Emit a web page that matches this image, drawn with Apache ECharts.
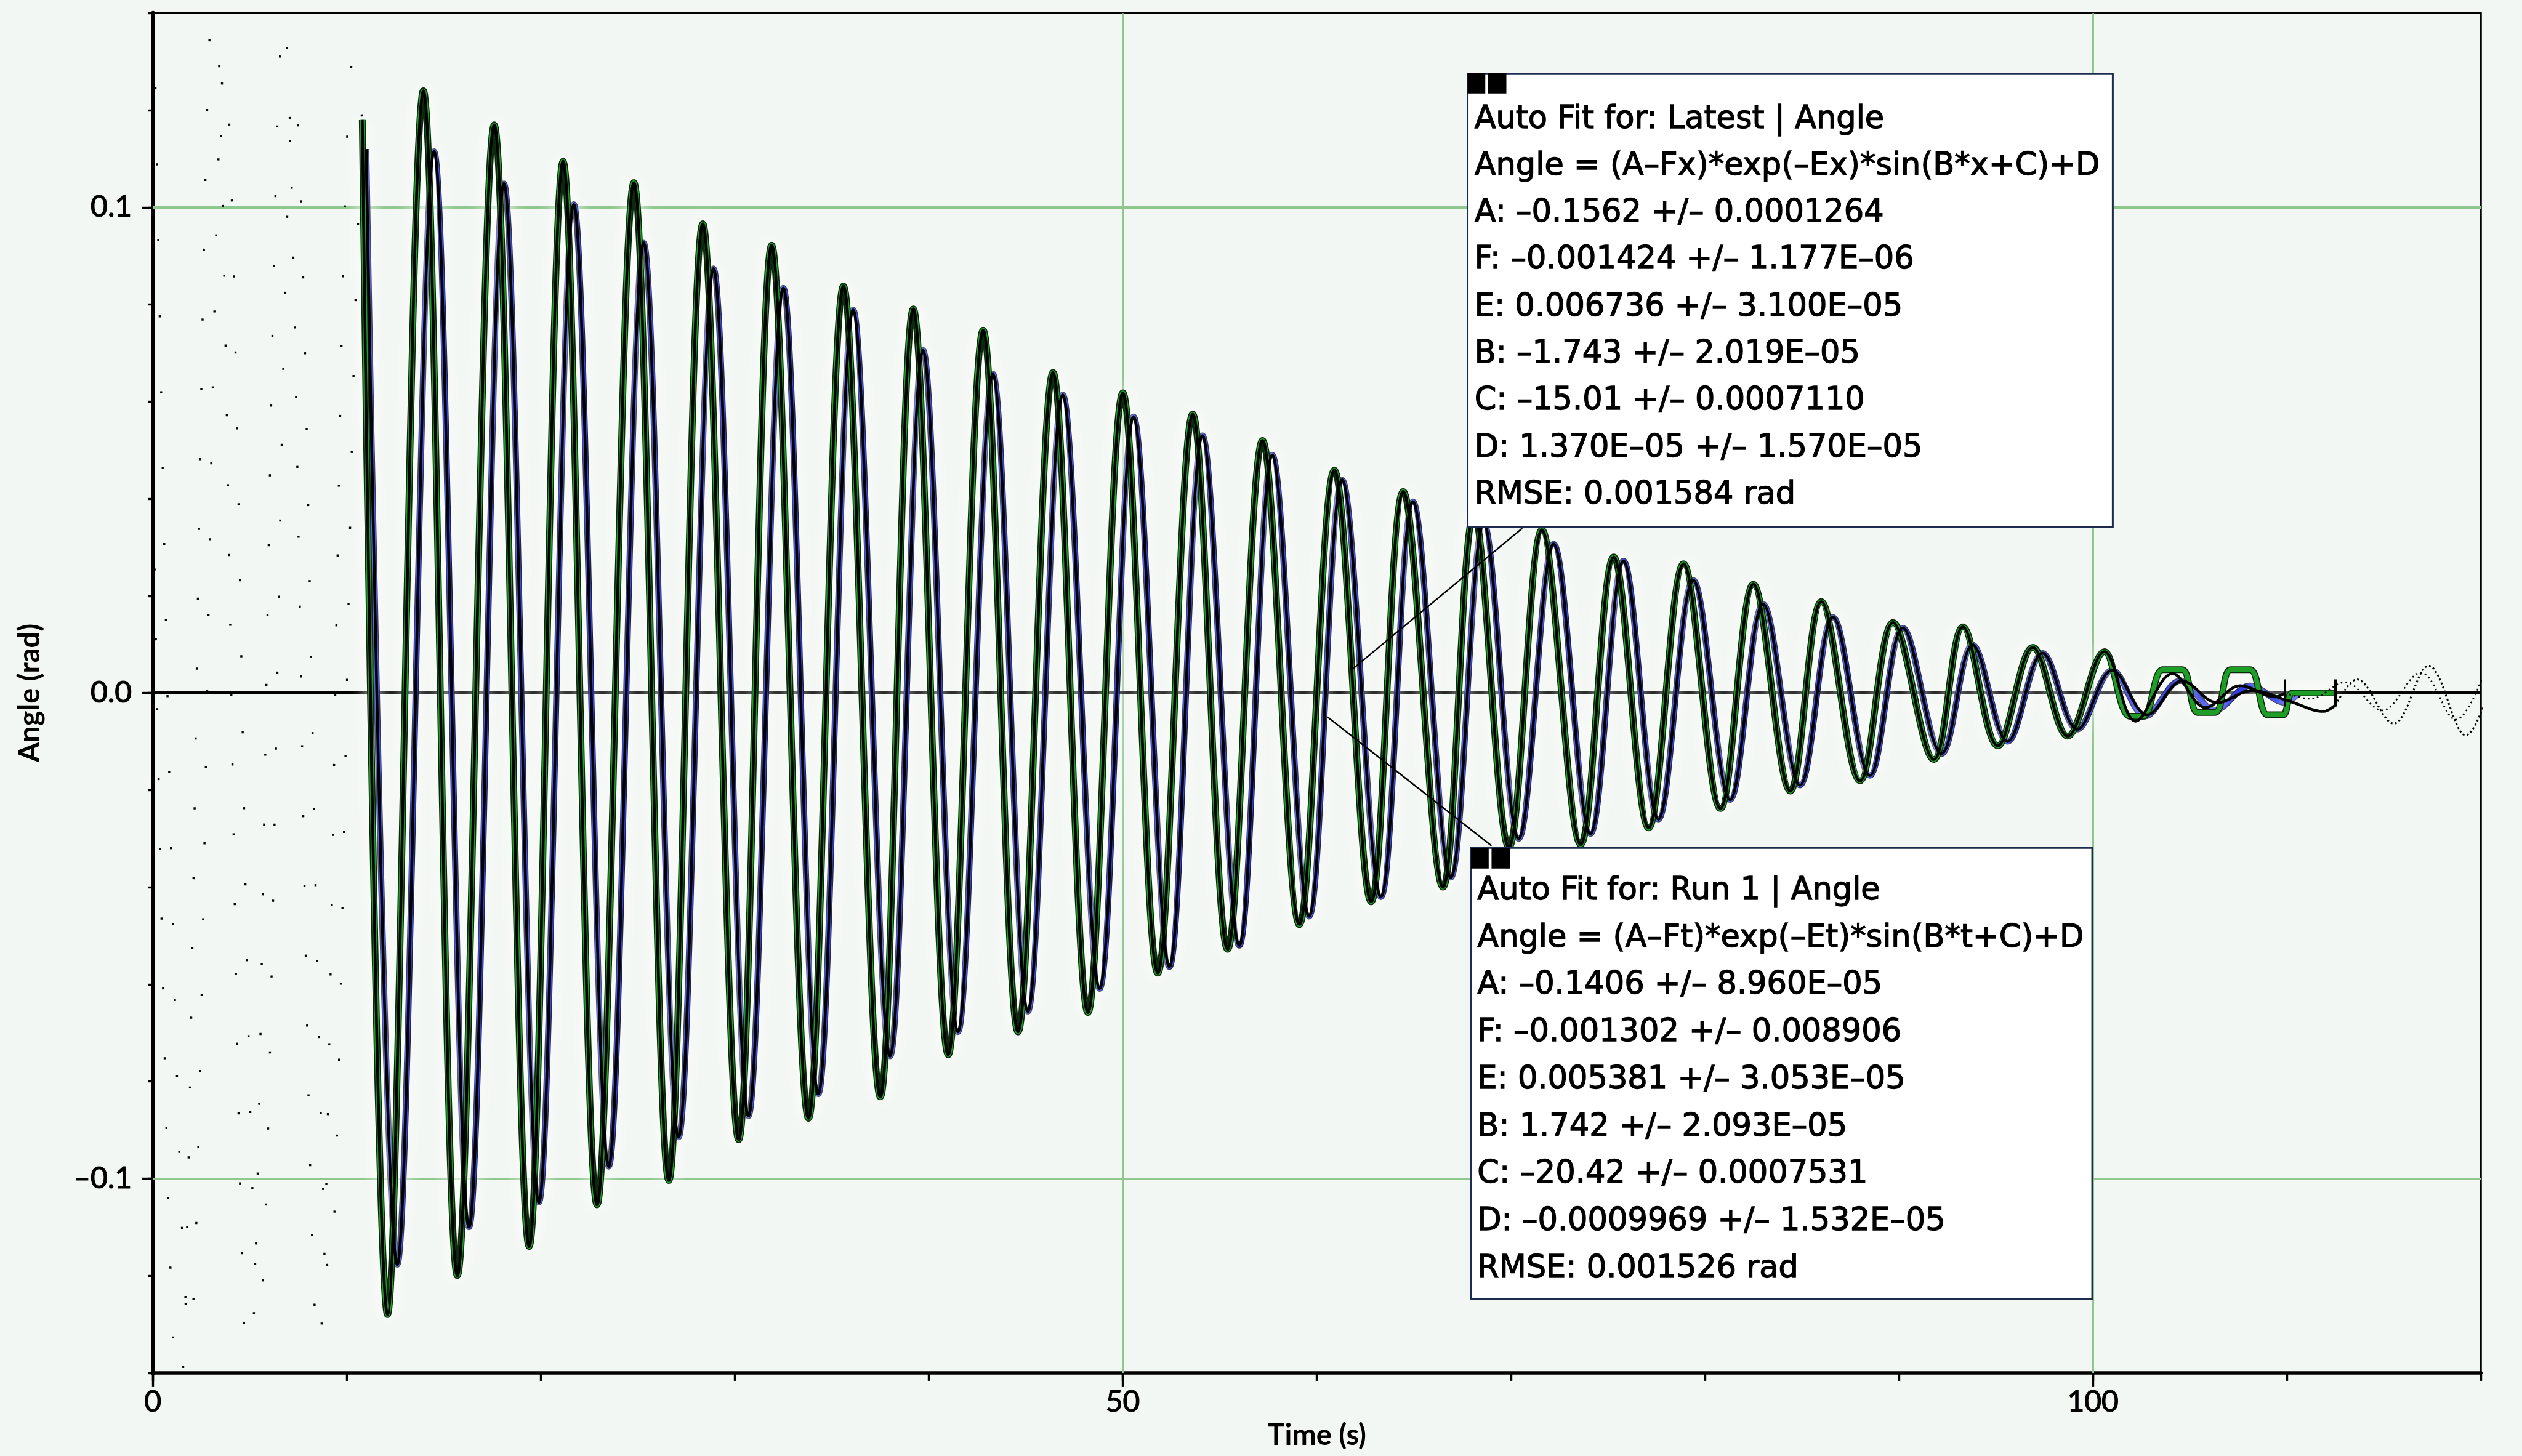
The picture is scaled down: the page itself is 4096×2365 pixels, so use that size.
<!DOCTYPE html>
<html>
<head>
<meta charset="utf-8">
<script src="https://cdn.jsdelivr.net/npm/echarts@6/dist/echarts.min.js"></script>
<style>
html,body{margin:0;padding:0;background:#f3f7f3;}
#c{width:4096px;height:2365px;}
</style>
</head>
<body>
<div id="c"></div>
<script>
// ---------------- DATA ----------------
// Latest run (green): alternating extremes, time (s) and angle (rad)
const latestT = [10.8, 12.1, 13.95, 15.7, 17.6, 19.4, 21.15, 22.9, 24.8, 26.6, 28.35, 30.2, 31.9, 33.8, 35.6, 37.5, 39.2, 41.0, 42.8, 44.6, 46.4, 48.2, 50.0, 51.8, 53.6, 55.4, 57.2, 59.1, 60.9, 62.8, 64.45, 66.5, 68.1, 69.9, 71.6, 73.6, 75.3, 77.1, 78.9, 80.8, 82.5, 84.4, 86.0, 88.0, 89.7, 91.8, 93.3, 95.1, 96.9, 98.7, 100.6, 101.9, 102.6, 103.6, 104.6, 105.4, 106.3, 107.1, 108.1, 109.0, 109.8, 110.3, 112.4];
const latestV = [0.118, -0.128, 0.124, -0.120, 0.117, -0.114, 0.1095, -0.1054, 0.1051, -0.1004, 0.0966, -0.092, 0.0922, -0.0876, 0.0838, -0.0832, 0.0791, -0.0745, 0.0747, -0.0698, 0.066, -0.0658, 0.0618, -0.0577, 0.0574, -0.0528, 0.052, -0.0477, 0.0459, -0.043, 0.0415, -0.040, 0.037, -0.0318, 0.0336, -0.0312, 0.028, -0.0278, 0.0266, -0.0238, 0.0224, -0.0202, 0.0188, -0.0181, 0.0145, -0.0137, 0.0136, -0.0109, 0.0094, -0.0089, 0.0085, -0.0048, -0.0048, 0.0048, 0.0048, -0.004, -0.004, 0.0048, 0.0048, -0.0045, -0.0045, 0, 0];
// Run 1 (blue)
const run1T = [11.0, 12.6, 14.5, 16.3, 18.1, 19.9, 21.7, 23.5, 25.3, 27.1, 28.9, 30.7, 32.5, 34.3, 36.1, 38.0, 39.7, 41.5, 43.3, 45.1, 46.9, 48.8, 50.55, 52.4, 54.1, 56.0, 57.7, 59.6, 61.3, 63.3, 64.95, 66.9, 68.6, 70.4, 72.2, 74.1, 75.8, 77.6, 79.4, 81.3, 83.0, 84.9, 86.6, 88.5, 90.2, 92.2, 93.8, 95.6, 97.4, 99.2, 101.0, 102.7, 104.5, 106.3, 108.1, 109.9, 110.8, 112.4];
const run1V = [0.112, -0.1177, 0.1115, -0.110, 0.1049, -0.1049, 0.1006, -0.0975, 0.0927, -0.0915, 0.0874, -0.0871, 0.0834, -0.0826, 0.0789, -0.0748, 0.0706, -0.0698, 0.0657, -0.0656, 0.0614, -0.0609, 0.0569, -0.0564, 0.053, -0.052, 0.049, -0.046, 0.0439, -0.042, 0.0394, -0.038, 0.035, -0.030, 0.0307, -0.029, 0.0272, -0.026, 0.0232, -0.022, 0.0183, -0.019, 0.0156, -0.017, 0.0134, -0.0125, 0.0099, -0.010, 0.0082, -0.0075, 0.0047, -0.0048, 0.0025, -0.0035, 0.0015, -0.002, 0, 0];
// Fit curves (black): solid part follows the data extremes up to ~101 s, then these tails
const latestFitTailT = [102.2, 104.1, 105.8, 107.6, 109.4, 109.9];
const latestFitTailV = [-0.0058, 0.0040, -0.0030, 0.0015, -0.0008, 0.0];
const run1FitTailT = [102.8, 104.6, 106.4, 108.2, 110.0, 111.9, 112.5];
const run1FitTailV = [-0.0045, 0.0025, -0.0020, 0.0005, -0.0015, -0.0038, -0.0025];
// Fit extrapolations (dotted)
const latestPreT = [-0.45, 1.35, 3.15, 4.95, 6.75, 8.55, 10.35, 10.8];
const latestPreV = [0.155, -0.150, 0.146, -0.143, 0.139, -0.135, 0.131, 0.118];
const run1PreT = [0.1, 1.9, 3.7, 5.5, 7.3, 9.1, 10.9, 11.0];
const run1PreV = [0.134, -0.133, 0.129, -0.127, 0.123, -0.120, 0.113, 0.112];
const latestPostT = [109.9, 111.2, 113.0, 114.9, 116.9, 118.7, 120.4];
const latestPostV = [0, -0.0012, 0.0022, -0.0036, 0.0042, -0.0055, 0.0066];
const run1PostT = [112.5, 113.6, 115.5, 117.3, 119.2, 121.0];
const run1PostV = [-0.0025, 0.0028, -0.0063, 0.0056, -0.0087, 0.009];
// Fit range end brackets
const bracketT = [109.9, 112.5];
const bracketHalf = 0.0028;
// Axes
const xMajor = [0, 50, 100];
const yMajor = [-0.1, 0, 0.1];
const gridX = [50, 100];
const gridY = [-0.1, 0.1];
// Annotation texts
const box1Lines = [
  'Auto Fit for: Latest | Angle',
  'Angle = (A–Fx)*exp(–Ex)*sin(B*x+C)+D',
  'A: –0.1562 +/– 0.0001264',
  'F: –0.001424 +/– 1.177E–06',
  'E: 0.006736 +/– 3.100E–05',
  'B: –1.743 +/– 2.019E–05',
  'C: –15.01 +/– 0.0007110',
  'D: 1.370E–05 +/– 1.570E–05',
  'RMSE: 0.001584 rad'
];
const box2Lines = [
  'Auto Fit for: Run 1 | Angle',
  'Angle = (A–Ft)*exp(–Et)*sin(B*t+C)+D',
  'A: –0.1406 +/– 8.960E–05',
  'F: –0.001302 +/– 0.008906',
  'E: 0.005381 +/– 3.053E–05',
  'B: 1.742 +/– 2.093E–05',
  'C: –20.42 +/– 0.0007531',
  'D: –0.0009969 +/– 1.532E–05',
  'RMSE: 0.001526 rad'
];

// ---------------- LAYOUT ----------------
const S = 4096 / 4425;
const zip = (T, V) => T.map((t, i) => [t, V[i]]);
const latestFit = zip(latestT.slice(0, 51), latestV.slice(0, 51)).concat(zip(latestFitTailT, latestFitTailV));
const run1Fit = zip(run1T.slice(0, 51), run1V.slice(0, 51)).concat(zip(run1FitTailT, run1FitTailV));

const boxFont = '51px "DejaVu Sans"';
function boxGraphics(bx, by, bw, bh, tx, ty0, dy, lines, hx, hy) {
  const els = [];
  els.push({type: 'rect', z: 100, shape: {x: bx * S, y: by * S, width: bw * S, height: bh * S},
    style: {fill: '#ffffff', stroke: '#1d2b4f', lineWidth: 3}});
  lines.forEach((t, i) => {
    els.push({type: 'text', z: 101, style: {text: t, x: tx * S, y: (ty0 + i * dy) * S,
      font: boxFont, fill: '#000', stroke: '#000', lineWidth: 1.3, align: 'left', verticalAlign: 'middle'}});
  });
  els.push({type: 'rect', z: 102, shape: {x: hx * S, y: hy * S, width: 31 * S, height: 36 * S}, style: {fill: '#000'}});
  els.push({type: 'rect', z: 102, shape: {x: (hx + 36) * S, y: hy * S, width: 32 * S, height: 36 * S}, style: {fill: '#000'}});
  return els;
}
const graphics = []
  .concat(boxGraphics(2575, 130, 1132, 795, 2587, 210, 82.4, box1Lines, 2575, 128))
  .concat(boxGraphics(2581, 1488, 1090, 791, 2592, 1564, 82.9, box2Lines, 2581, 1488))
  .concat([
    {type: 'line', z: 99, shape: {x1: 2671 * S, y1: 927 * S, x2: 2372 * S, y2: 1175 * S}, style: {stroke: '#000', lineWidth: 2.5}},
    {type: 'line', z: 99, shape: {x1: 2329 * S, y1: 1258 * S, x2: 2617 * S, y2: 1484 * S}, style: {stroke: '#000', lineWidth: 2.5}}
  ]);

const chart = echarts.init(document.getElementById('c'), null, {renderer: 'canvas', width: 4096, height: 2365});
const glow = {shadowColor: 'rgba(255,255,255,0.95)', shadowBlur: 26};
const tickFont = {fontFamily: 'Lato', fontSize: 48, color: '#000', textBorderColor: '#000', textBorderWidth: 1.2};
const nameFont = {fontFamily: 'Lato', fontSize: 47, fontWeight: 'bold', color: '#000'};

chart.setOption({
  animation: false,
  backgroundColor: '#f3f7f3',
  grid: {left: 268 * S, top: 23 * S, width: (4353 - 268) * S, height: (2409 - 23) * S,
    show: true, borderColor: '#000', borderWidth: 2.8, backgroundColor: 'transparent', containLabel: false},
  xAxis: [
    {type: 'value', min: 0, max: 120, interval: 10, position: 'bottom',
      axisLine: {show: true, onZero: false, lineStyle: {color: '#000', width: 5.5}},
      axisTick: {show: true, length: 13, lineStyle: {color: '#000', width: 3.4}},
      axisLabel: {show: false}, splitLine: {show: false}},
    {type: 'value', min: 0, max: 120, interval: 50, position: 'bottom',
      axisLine: {show: false, onZero: false},
      axisTick: {show: true, customValues: xMajor, length: 23, lineStyle: {color: '#000', width: 3.4}},
      axisLabel: Object.assign({show: true, customValues: xMajor, margin: 24,
        formatter: v => (xMajor.indexOf(v) >= 0 ? String(v) : '')}, tickFont),
      splitLine: {show: false},
      name: 'Time (s)', nameLocation: 'middle', nameGap: 78, nameTextStyle: nameFont}
  ],
  yAxis: [
    {type: 'value', min: -0.14, max: 0.14, interval: 0.02, position: 'left',
      axisLine: {show: true, onZero: false, lineStyle: {color: '#000', width: 7}},
      axisTick: {show: true, length: 8, lineStyle: {color: '#000', width: 3.4}},
      axisLabel: {show: false}, splitLine: {show: false}},
    {type: 'value', min: -0.14, max: 0.14, position: 'left', offset: 0,
      axisLine: {show: false, onZero: false},
      axisTick: {show: true, customValues: yMajor, length: 18, lineStyle: {color: '#000', width: 3.4}},
      axisLabel: Object.assign({show: true, customValues: yMajor, margin: 34,
        formatter: v => (Math.abs(v) < 1e-9 ? '0.0' : (v < 0 ? '–' : '') + Math.abs(v).toFixed(1))}, tickFont),
      splitLine: {show: false},
      name: 'Angle (rad)', nameLocation: 'middle', nameGap: 176, nameTextStyle: nameFont}
  ],
  series: [
    {type: 'line', data: [], xAxisIndex: 0, yAxisIndex: 0, silent: true, z: 1,
      markLine: {silent: true, z: 1, symbol: ['none', 'none'], label: {show: false}, animation: false,
        data: gridX.map(x => ({xAxis: x, lineStyle: {color: '#8fc88f', width: 3, type: 'solid'}}))
          .concat(gridY.map(y => ({yAxis: y, lineStyle: {color: '#8fc88f', width: 4, type: 'solid'}})))
          .concat([{yAxis: 0, lineStyle: {color: '#000', width: 5, type: 'solid'}}])}},
    {name: 'Run 1 outline', type: 'line', data: zip(run1T, run1V), smooth: 0.36, showSymbol: false, z: 2,
      lineStyle: Object.assign({color: '#0a0c3a', width: 10}, glow)},
    {name: 'Run 1', type: 'line', data: zip(run1T, run1V), smooth: 0.36, showSymbol: false, z: 2,
      lineStyle: {color: '#1f2fe8', width: 7}},
    {name: 'Latest outline', type: 'line', data: zip(latestT, latestV), smooth: 0.36, showSymbol: false, z: 3,
      lineStyle: Object.assign({color: '#0b2a0b', width: 11}, glow)},
    {name: 'Latest', type: 'line', data: zip(latestT, latestV), smooth: 0.36, showSymbol: false, z: 3,
      lineStyle: {color: '#1e9e26', width: 7.6}},
    {name: 'Latest fit', type: 'line', data: latestFit, smooth: 0.36, showSymbol: false, z: 4,
      lineStyle: {color: '#000', width: 4.6},
      markLine: {silent: true, z: 6, symbol: ['none', 'none'], label: {show: false}, animation: false,
        lineStyle: {color: '#000', width: 4, type: 'solid'},
        data: bracketT.map(t => [{coord: [t, bracketHalf]}, {coord: [t, -bracketHalf]}])}},
    {name: 'Run 1 fit', type: 'line', data: run1Fit, smooth: 0.36, showSymbol: false, z: 4,
      lineStyle: {color: '#000', width: 4.6}},
    {name: 'Latest fit extrap. start', type: 'line', data: zip(latestPreT, latestPreV), smooth: 0.36, showSymbol: false, z: 4,
      lineStyle: {color: '#000', width: 3.4, type: [3.4, 110]}},
    {name: 'Run 1 fit extrap. start', type: 'line', data: zip(run1PreT, run1PreV), smooth: 0.36, showSymbol: false, z: 4,
      lineStyle: {color: '#000', width: 3.4, type: [3.4, 120], dashOffset: 50}},
    {name: 'Latest fit extrap. end', type: 'line', data: zip(latestPostT, latestPostV), smooth: 0.36, showSymbol: false, z: 4,
      lineStyle: {color: '#000', width: 2.6, type: [2.6, 5]}},
    {name: 'Run 1 fit extrap. end', type: 'line', data: zip(run1PostT, run1PostV), smooth: 0.36, showSymbol: false, z: 4,
      lineStyle: {color: '#000', width: 3, type: [3, 4]}}
  ],
  graphic: graphics
});
</script>
</body>
</html>
